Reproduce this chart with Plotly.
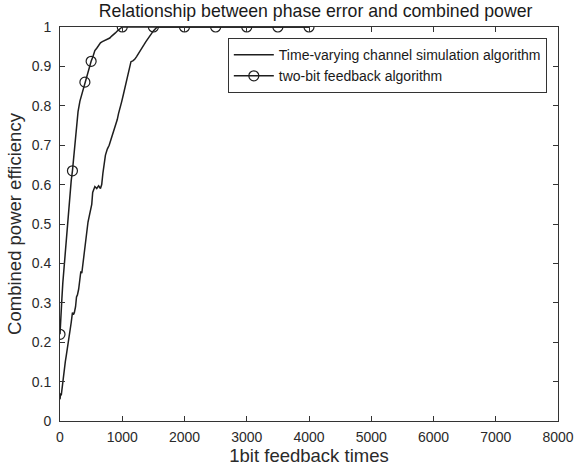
import plotly.graph_objects as go

# Time-varying channel simulation algorithm (plain line)
tv_x = [0, 10, 20, 30, 40, 55, 70, 85, 100, 120, 140, 160, 180, 200, 215, 230, 250, 265, 280, 300,
        320, 335, 350, 370, 390, 410, 430, 450, 470, 490, 510, 525, 540, 560, 590, 620, 650, 670, 690, 710,
        730, 760, 790, 820, 850, 880, 900, 920, 940, 960, 990, 1020, 1050, 1080, 1100, 1125, 1140, 1170, 1200, 1230,
        1260, 1290, 1320, 1350, 1380, 1410, 1440, 1470, 1500, 1530, 1560, 2000, 2500, 3000, 3500, 4000]
tv_y = [0.055, 0.07, 0.065, 0.08, 0.10, 0.12, 0.135, 0.15, 0.165, 0.185, 0.20, 0.225, 0.25, 0.275, 0.27, 0.275, 0.29, 0.315, 0.32, 0.335,
        0.36, 0.38, 0.375, 0.40, 0.43, 0.46, 0.49, 0.505, 0.52, 0.535, 0.55, 0.58, 0.59, 0.595, 0.59, 0.597, 0.59, 0.60, 0.63, 0.655,
        0.675, 0.69, 0.70, 0.715, 0.73, 0.74, 0.75, 0.765, 0.78, 0.79, 0.81, 0.83, 0.85, 0.87, 0.89, 0.905, 0.912, 0.914, 0.918, 0.925,
        0.932, 0.94, 0.945, 0.955, 0.963, 0.97, 0.978, 0.985, 0.99, 0.995, 1.0, 1.0, 1.0, 1.0, 1.0, 1.0]

# Two-bit feedback algorithm (line with circles)
tb_x = [0, 10, 20, 30, 45, 60, 75, 90, 105, 120, 140, 160, 180, 200, 230, 260, 290, 320, 360, 400,
        420, 440, 460, 480, 500, 530, 560, 590, 620, 650, 680, 710, 740, 770, 800, 830, 860, 890, 920, 950,
        980, 1000, 1500, 2000, 2500, 3000, 3500, 4000]
tb_y = [0.22, 0.26, 0.285, 0.31, 0.35, 0.38, 0.41, 0.44, 0.47, 0.50, 0.54, 0.575, 0.61, 0.635, 0.69, 0.735, 0.785, 0.812, 0.835, 0.86,
        0.872, 0.885, 0.895, 0.905, 0.913, 0.925, 0.94, 0.946, 0.955, 0.96, 0.963, 0.965, 0.966, 0.968, 0.972, 0.977, 0.98, 0.985, 0.99, 0.994,
        0.998, 1.0, 1.0, 1.0, 1.0, 1.0, 1.0, 1.0]
marker_at = [0, 200, 400, 500, 1000, 1500, 2000, 2500, 3000, 3500, 4000]

x_ticks = [0, 1000, 2000, 3000, 4000, 5000, 6000, 7000, 8000]
y_ticks = [0, 0.1, 0.2, 0.3, 0.4, 0.5, 0.6, 0.7, 0.8, 0.9, 1]

line_col = "#1e1e1e"
axis_col = "#333333"
text_col = "#2a2a2a"
FONT = "Liberation Sans, Arial, sans-serif"

mk_x = [x for x in tb_x if x in marker_at]
mk_y = [y for x, y in zip(tb_x, tb_y) if x in marker_at]

fig = go.Figure()
fig.add_trace(go.Scatter(x=tv_x, y=tv_y, mode="lines", name="Time-varying channel simulation algorithm",
                         line=dict(color=line_col, width=1.5)))
fig.add_trace(go.Scatter(x=tb_x, y=tb_y, mode="lines", showlegend=False,
                         line=dict(color=line_col, width=1.5)))
fig.add_trace(go.Scatter(x=mk_x, y=mk_y, mode="markers", showlegend=False,
                         marker=dict(symbol="circle-open", size=10, color=line_col, line=dict(width=1.2))))
fig.add_trace(go.Scatter(x=[None], y=[None], mode="lines+markers", name="two-bit feedback algorithm",
                         line=dict(color=line_col, width=1.5),
                         marker=dict(symbol="circle-open", size=10, color=line_col, line=dict(width=1.2))))

axis_common = dict(showline=True, linecolor=axis_col, linewidth=1, mirror="ticks", ticks="inside",
                   ticklen=5, tickcolor=axis_col, showgrid=False, zeroline=False, automargin=False,
                   tickfont=dict(family=FONT, size=14, color=text_col),
                   title_font=dict(family=FONT, size=18.5, color=text_col))

fig.update_layout(
    width=576, height=473,
    margin=dict(l=60, r=18, t=27, b=52),
    paper_bgcolor="white", plot_bgcolor="white",
    title=dict(text="Relationship between phase error and combined power", x=0.548, xanchor="center",
               y=0.977, yanchor="middle", font=dict(family=FONT, size=17.7, color="#1a1a1a")),
    xaxis=dict(range=[0, 8000], tickvals=x_ticks, ticklabelstandoff=3,
               title=dict(text="1bit feedback times", standoff=3), **axis_common),
    yaxis=dict(range=[0, 1], tickvals=y_ticks, ticklabelstandoff=5,
               title=dict(text="Combined power efficiency", standoff=5), **axis_common),
    legend=dict(x=0.337, y=0.972, xanchor="left", yanchor="top", bgcolor="white",
                bordercolor=axis_col, borderwidth=1, font=dict(family=FONT, size=14, color="#1a1a1a"),
                tracegroupgap=0, itemwidth=40),
    showlegend=True,
)

fig.write_html("out.html")
